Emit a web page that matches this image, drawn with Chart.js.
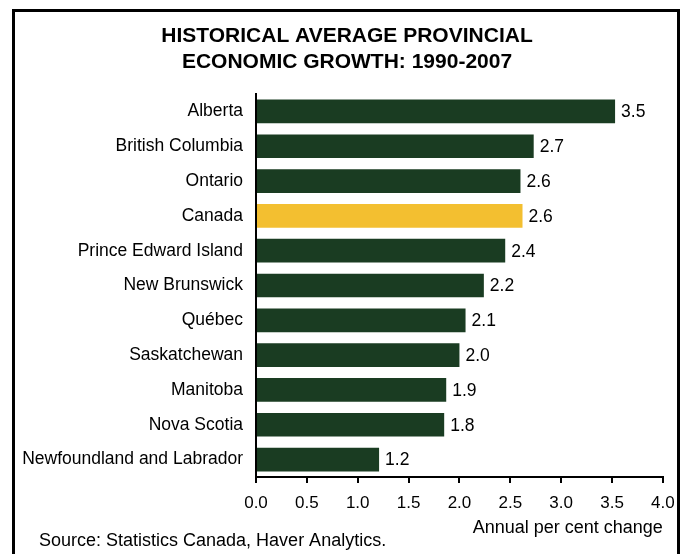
<!DOCTYPE html>
<html>
<head>
<meta charset="utf-8">
<script src="https://cdn.jsdelivr.net/npm/chart.js@4/dist/chart.umd.min.js"></script>
<style>
  html, body { margin: 0; padding: 0; background: #fff; overflow: hidden; }
  canvas { display: block; }
</style>
</head>
<body>
<canvas id="c" width="685" height="554"></canvas>
<script>
const titleLines = ['HISTORICAL AVERAGE PROVINCIAL', 'ECONOMIC GROWTH: 1990-2007'];
const categories = ['Alberta', 'British Columbia', 'Ontario', 'Canada', 'Prince Edward Island',
  'New Brunswick', 'Québec', 'Saskatchewan', 'Manitoba', 'Nova Scotia', 'Newfoundland and Labrador'];
const growth = [3.53, 2.73, 2.60, 2.62, 2.45, 2.24, 2.06, 2.00, 1.87, 1.85, 1.21];
const valueLabels = ['3.5', '2.7', '2.6', '2.6', '2.4', '2.2', '2.1', '2.0', '1.9', '1.8', '1.2'];
const highlight = 'Canada';
const xTitle = 'Annual per cent change';
const sourceNote = 'Source: Statistics Canada, Haver Analytics.';

const FONT = "'Liberation Sans', Arial, Helvetica, sans-serif";
const GREEN = '#1a3c22';
const YELLOW = '#f3bf30';

const framePlugin = {
  id: 'frame',
  beforeDraw(chart) {
    const ctx = chart.ctx;
    ctx.save();
    ctx.strokeStyle = '#000';
    ctx.lineWidth = 3;
    ctx.lineJoin = 'miter';
    ctx.beginPath();
    ctx.moveTo(13.5, 560);
    ctx.lineTo(13.5, 10.5);
    ctx.lineTo(678.5, 10.5);
    ctx.lineTo(678.5, 560);
    ctx.stroke();
    ctx.restore();
  }
};

const textPlugin = {
  id: 'texts',
  afterDatasetsDraw(chart) {
    const ctx = chart.ctx;
    const meta = chart.getDatasetMeta(0);
    ctx.save();
    ctx.fillStyle = '#000';
    ctx.font = '17.5px ' + FONT;
    ctx.textAlign = 'left';
    ctx.textBaseline = 'middle';
    meta.data.forEach((bar, i) => {
      ctx.fillText(valueLabels[i], bar.x + 6, bar.y + 1);
    });
    ctx.restore();
  },
  afterDraw(chart) {
    const ctx = chart.ctx;
    ctx.save();
    ctx.fillStyle = '#000';
    ctx.font = 'bold 21px ' + FONT;
    ctx.textAlign = 'center';
    ctx.textBaseline = 'middle';
    titleLines.forEach((t, i) => ctx.fillText(t, 347, 36 + i * 26.5));
    ctx.font = '18px ' + FONT;
    ctx.textAlign = 'left';
    ctx.fillText(sourceNote, 39, 541);
    ctx.restore();
  }
};

new Chart(document.getElementById('c'), {
  type: 'bar',
  data: {
    labels: categories,
    datasets: [{
      data: growth,
      backgroundColor: categories.map(c => c === highlight ? YELLOW : GREEN),
      borderWidth: 0,
      categoryPercentage: 1,
      barPercentage: 0.68
    }]
  },
  options: {
    indexAxis: 'y',
    responsive: false,
    animation: false,
    layout: { padding: { left: 14, right: 17, top: 94, bottom: 0 } },
    plugins: {
      legend: { display: false },
      tooltip: { enabled: false },
      title: { display: false }
    },
    scales: {
      x: {
        min: 0,
        max: 4,
        afterFit(scale) { scale.height = 77; },
        ticks: {
          stepSize: 0.5,
          color: '#000',
          padding: 10.3,
          font: { family: FONT, size: 17 },
          callback: v => Number(v).toFixed(1)
        },
        grid: {
          display: true,
          drawOnChartArea: false,
          drawTicks: true,
          tickLength: 6,
          color: '#000',
          lineWidth: 2
        },
        border: { display: true, color: '#000', width: 2 },
        title: {
          display: true,
          text: xTitle,
          align: 'end',
          color: '#000',
          font: { family: FONT, size: 18 },
          padding: { top: 0, bottom: 14.7 }
        }
      },
      y: {
        afterFit(scale) { scale.width = 242; },
        ticks: {
          color: '#000',
          padding: 13,
          font: { family: FONT, size: 17.5 }
        },
        grid: { display: false, drawTicks: false },
        border: { display: true, color: '#000', width: 2 }
      }
    }
  },
  plugins: [framePlugin, textPlugin]
});
</script>
</body>
</html>
